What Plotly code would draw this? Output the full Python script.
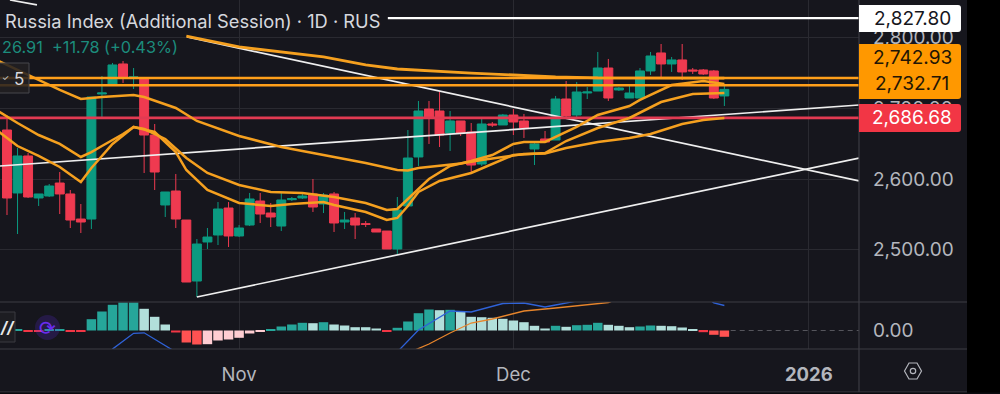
import plotly.graph_objects as go
from plotly.subplots import make_subplots

# ---------- data ----------
candle_idx = list(range(69))
opens = [2669.4,2580.2,2632.6,2573.1,2575.9,2594.3,2578.8,2543.3,2543.3,2720.4,2733.1,2762.9,2743.1,2743.1,2662.3,2563.2,2583,2541.9,2455.5,2510.8,2520.7,2558.9,2519.3,2534.8,2568.8,2551.8,2533.4,2570.7,2573.1,2578.8,2564.6,2578.8,2539.1,2544.8,2536.7,2529.2,2526.3,2500.9,2561.8,2631.2,2699.1,2696.3,2665.2,2682.2,2666.6,2621.2,2677.9,2676.5,2690.6,2682.2,2642.5,2656.7,2655.2,2713.3,2690.6,2721.8,2724.6,2757.2,2726.1,2714.7,2714.7,2753,2778.5,2762.9,2768.6,2754.4,2754.4,2753,2717.6]
highs = [2690,2643.9,2636.8,2578.8,2592.9,2609.9,2584.4,2564.6,2716.1,2745.9,2764.3,2767.1,2757.2,2743.1,2677.9,2581.6,2607.1,2541.9,2515,2530.6,2567.4,2567.4,2534.8,2580.2,2580.2,2566,2580.2,2574.5,2580.2,2600,2580.2,2581.6,2553.3,2551.8,2540.5,2529.2,2526.3,2574.5,2669.4,2710.5,2710.5,2723.2,2696.3,2682.2,2679.3,2685,2680.7,2692.1,2699.1,2692.1,2652.4,2668,2717.6,2738.8,2737.4,2730.3,2779.9,2770,2730.3,2731.7,2757.2,2779.9,2791.2,2772.8,2791.2,2757.2,2755.8,2754.4,2733.1]
lows = [2549,2522.1,2573.1,2561.8,2574.5,2550.4,2530.6,2523.5,2529.2,2687.8,2733.1,2736,2727.5,2608.5,2584.4,2546.2,2530.6,2454.1,2432.9,2500.9,2506.5,2503.7,2517.8,2533.4,2537.7,2532,2526.3,2568.8,2571.7,2553.3,2551.8,2524.9,2529.2,2515,2532,2524.9,2500.9,2493.8,2560.3,2618.4,2649.6,2645.3,2639.7,2660.9,2607.1,2618.4,2673.7,2676.5,2662.3,2658.1,2619.8,2651,2655.2,2685,2687.8,2713.3,2724.6,2710.5,2724.6,2714.7,2714.7,2747.3,2741.6,2751.6,2740.2,2748.7,2747.3,2713.3,2703.4]
closes = [2573.1,2632.6,2574.5,2578.8,2590.1,2578.8,2541.9,2539.1,2716.1,2721.8,2761.5,2743.1,2744.5,2662.3,2609.9,2581.6,2543.3,2454.1,2507.9,2517.8,2557.5,2519.3,2530.6,2571.7,2550.4,2546.2,2570.3,2572.1,2575.9,2560.3,2577.3,2537.7,2541.9,2534.8,2535.8,2524.9,2500.9,2556.1,2629.7,2696.3,2686.4,2662.3,2682.2,2665.2,2619.8,2677.9,2676.5,2690.6,2680.7,2672.2,2649.6,2652.4,2713.3,2689.2,2723.2,2723.2,2757.2,2714.7,2728.9,2721.8,2753,2774.2,2762.9,2768.6,2751.6,2753,2748.7,2714.7,2726.91]

ma_slow_idx = [-1,3,5,7,9,12,13,16,18,22,26,30,34,37,38,39,43,45,47,49,51,53,56,59,61,64,66,68]
ma_slow = [2768.6,2740.2,2726.1,2713.3,2716.1,2719,2716.1,2700.6,2682.2,2660.9,2645.3,2634,2622.7,2612.7,2612,2615.6,2622,2626.9,2631.2,2635.4,2636.1,2643.9,2652.4,2658.1,2663.7,2677.9,2683.6,2686.4]
ma_upper_idx = [-1,1,3,5,7,8,9,11,12,13,15,17,19,22,25,28,31,34,36,37,38,40,42,44,46,48,49,51,52,54,56,59,60,63,66,68]
ma_upper = [2697.7,2679.3,2662.3,2649.6,2631.2,2638.2,2646.7,2663.7,2673.7,2670.8,2656.7,2629.7,2608.5,2591.5,2581.6,2580.2,2574.5,2566,2556.1,2557.5,2571.7,2600,2618.4,2625.5,2634,2649.6,2652.4,2652.4,2659.5,2673.7,2690.6,2703.4,2711.9,2733.1,2738.8,2734.6]
ma_lower_idx = [-1,1,3,5,7,8,10,12,13,14,16,17,19,22,25,27,30,31,34,36,37,38,39,41,44,46,48,51,53,56,59,62,65,68]
ma_lower = [2669.4,2646.7,2632.6,2617,2595.8,2615.6,2649.6,2673.7,2670,2666.6,2638.2,2612.7,2584.4,2566,2561.8,2564.6,2567.4,2563.2,2553.3,2541.9,2544.8,2561.8,2581.6,2597.2,2608.5,2621.2,2634,2636.8,2653.8,2672.2,2686.4,2709,2720.4,2721.8]
ma_long_idx = [17,22,30,34,37,40,44,48,52,56,60,68]
ma_long = [2802.5,2787,2772.8,2761.5,2755.8,2753,2750,2747.3,2744.5,2743.1,2743,2742.9]

level_white = 2827.80
level_orange_a = 2742.93
level_orange_b = 2732.71
level_red = 2686.68
price_ticks = [2500, 2600, 2700, 2800]

trend_down_idx = [0.28, 2.84, None, 17.06, 80.76]
trend_down = [2853.5, 2846.5, None, 2801.1, 2597.2]
trend_up_idx = [18, 80.76]
trend_up = [2432.9, 2629.7]
trend_mid_idx = [-0.66, 80.76]
trend_mid = [2618.4, 2704.8]
white_level_idx = [36.1, 80.76]

hist_idx = list(range(1, 69))
hist = [.5,-.5,-.5,.3,.75,-.5,-.75,5.65,9.5,12.85,14,14,10.85,6.85,3,-1,-6,-7,-6.85,-5,-4.5,-3.65,-1.5,-.5,.5,2,3,3.85,3.65,4.15,3,2.5,1.65,1.65,1,-.5,1.35,4.5,8.65,10.5,10.15,10.35,9.5,6.85,6.65,6.35,5.85,5,4.15,2.35,1,2.35,1.85,2.65,2.85,3.85,2.85,2.35,1.65,2,2.5,2.35,2.15,1.5,.5,-.85,-2.15,-3.15]
hist_strong_pos = [1,4,5,8,9,10,11,12,25,26,27,28,30,37,38,39,40,42,52,54,55,56,60,61]
hist_strong_neg = [17,18,67,68]
hist_dark_neg = [2,3,6,7,16,36,66]
macd_idx = [9,10,12,13,16,17,None,36,37,39,41,42,44,46,47,49,51,52,54,56,None,66,67,68]
macd_line = [-15,-9.3,-1.4,-1.15,-10.75,-15,None,-15,-10.7,.25,6.75,9.75,9.25,12.25,13.5,13.75,11.75,12.75,14.75,20,None,18,13.75,12.5]
signal_idx = [38,40,42,44,46,49,52,55,57,60]
signal_line = [-11.25,-6.75,-1.25,3.75,5.75,9.75,11.25,12.75,14,20]
zero_idx = [68.6, 80.76]
macd_ticks = [0]

time_ticks = [22, 48, 76]
time_labels = ["Nov", "Dec", "<b>2026</b>"]

# ---------- styles ----------
W, H = 1000, 394
BG = "#16161d"
GRID = "#2a2a31"
SEP = "#3c3c44"
GREEN = "#0b9a80"
RED = "#ef3a50"
AMBER = "#f5a01f"
LABEL = "#b4b6bd"
FONT = "Inter, Roboto, sans-serif"
TAGSIZE = 19

kinds = []
for i, v in zip(hist_idx, hist):
    if i in hist_strong_pos:
        kinds.append("#26a69a")
    elif i in hist_strong_neg:
        kinds.append("#ff5252")
    elif i in hist_dark_neg:
        kinds.append("#f23645")
    elif v < 0:
        kinds.append("#ffcdd2")
    else:
        kinds.append("#b2dfdb")

fig = make_subplots(rows=2, cols=1, shared_xaxes=True, vertical_spacing=0)

fig.add_trace(go.Candlestick(
    x=candle_idx, open=opens, high=highs, low=lows, close=closes,
    increasing=dict(line=dict(color=GREEN, width=1), fillcolor=GREEN),
    decreasing=dict(line=dict(color=RED, width=1), fillcolor=RED),
    whiskerwidth=0, showlegend=False), row=1, col=1)

def line(x, y, color, width, row=1, dash=None):
    fig.add_trace(go.Scatter(x=x, y=y, mode="lines", showlegend=False, connectgaps=False,
                             line=dict(color=color, width=width, dash=dash)), row=row, col=1)

xl, xr = -0.663, 80.76
line(trend_mid_idx, trend_mid, "#eeeeee", 1.7)
line(trend_down_idx, trend_down, "#eeeeee", 1.7)
line(trend_up_idx, trend_up, "#eeeeee", 1.7)
line(white_level_idx, [level_white]*2, "#ffffff", 2.2)
line([xl, xr], [level_red]*2, "#e23a52", 2.8)
line(ma_slow_idx, ma_slow, AMBER, 2.5)
line(ma_upper_idx, ma_upper, AMBER, 2.5)
line(ma_lower_idx, ma_lower, AMBER, 2.5)
line(ma_long_idx, ma_long, AMBER, 2.8)
line([xl, xr], [level_orange_a]*2, "#ff9f1a", 2.5)
line([xl, xr], [level_orange_b]*2, "#ff9f1a", 2.5)

fig.add_trace(go.Bar(x=hist_idx, y=hist, marker=dict(color=kinds, line=dict(width=0)),
                     width=0.9, showlegend=False), row=2, col=1)
line(macd_idx, macd_line, "#2f62d8", 1.3, row=2)
line(signal_idx, signal_line, "#e8852b", 1.3, row=2)
line(zero_idx, [0, 0], "#55555c", 1, row=2, dash="5px,4px")

def py(p):
    return 1 - p / H
def px(p):
    return p / W

fig.update_xaxes(range=[xl, xr], tickvals=time_ticks, ticktext=["", "", ""], showgrid=True, gridcolor=GRID,
                 gridwidth=1, zeroline=False, showline=False, rangeslider_visible=False, ticks="",
                 domain=[0, 859 / W], row=1, col=1)
fig.update_xaxes(range=[xl, xr], tickvals=time_ticks, ticktext=time_labels, showgrid=True, gridcolor=GRID,
                 gridwidth=1, zeroline=False, showline=False, ticks="", ticklabelstandoff=12,
                 tickfont=dict(family=FONT, size=18.5, color=LABEL), domain=[0, 859 / W], row=2, col=1)
fig.update_yaxes(range=[2425.8, 2853.5], tickvals=price_ticks, tickformat=",.2f", side="right",
                 showgrid=True, gridcolor=GRID, zeroline=False, showline=False, ticks="",
                 ticklabelstandoff=13, tickfont=dict(family=FONT, size=TAGSIZE, color=LABEL),
                 domain=[py(302), 1], row=1, col=1)
fig.update_yaxes(range=[-9.25, 14.25], tickvals=macd_ticks, tickformat=".2f", side="right",
                 showgrid=False, zeroline=False, showline=False, ticks="",
                 ticklabelstandoff=13, tickfont=dict(family=FONT, size=TAGSIZE, color=LABEL),
                 domain=[py(349), py(302)], row=2, col=1)

shapes = []
def hline(y, x1=967):
    shapes.append(dict(type="line", xref="paper", yref="paper", x0=0, x1=px(x1), y0=py(y), y1=py(y),
                       line=dict(color=SEP, width=1.2), layer="above"))
hline(302); hline(349); hline(392)
shapes.append(dict(type="line", xref="paper", yref="paper", x0=px(859), x1=px(859), y0=py(0), y1=py(392),
                   line=dict(color=SEP, width=1.2), layer="above"))
shapes.append(dict(type="rect", xref="paper", yref="paper", x0=px(967), x1=1, y0=0, y1=1,
                   fillcolor="#000000", line=dict(width=0), layer="above"))
shapes.append(dict(type="rect", xref="paper", yref="paper", x0=0, x1=1, y0=0, y1=py(392.5),
                   fillcolor="#0a0a0e", line=dict(width=0), layer="above"))

def tag(y0, y1, color):
    x0, x1, r = 859, 961, 3
    path = (f"M {px(x0)} {py(y0)} L {px(x1-r)} {py(y0)} Q {px(x1)} {py(y0)} {px(x1)} {py(y0+r)} "
            f"L {px(x1)} {py(y1-r)} Q {px(x1)} {py(y1)} {px(x1-r)} {py(y1)} L {px(x0)} {py(y1)} Z")
    shapes.append(dict(type="path", xref="paper", yref="paper", path=path, fillcolor=color,
                       line=dict(width=0), layer="above"))
tag(5, 32, "#ffffff")
tag(44, 99, "#ff9800")
tag(104, 132, "#f23645")

shapes.append(dict(type="rect", xref="paper", yref="paper", x0=px(-4), x1=px(29), y0=py(93), y1=py(63),
                   fillcolor="rgba(34,32,34,0.86)", line=dict(color="#47474c", width=1), layer="above"))
shapes.append(dict(type="rect", xref="paper", yref="paper", x0=px(-4), x1=px(15), y0=py(342), y1=py(312),
                   fillcolor="#1d1d22", line=dict(color="#3a3a40", width=1), layer="above"))
shapes.append(dict(type="circle", xref="paper", yref="paper", x0=px(35), x1=px(60), y0=py(340), y1=py(315),
                   fillcolor="rgba(90,40,220,0.22)", line=dict(width=0), layer="above"))

cx, cy = 913, 371
hexpts = [(cx-8.5, cy), (cx-4, cy-8), (cx+4, cy-8), (cx+8.5, cy), (cx+4, cy+8), (cx-4, cy+8)]
hexpath = "M " + " L ".join(f"{px(a)} {py(b)}" for a, b in hexpts) + " Z"
shapes.append(dict(type="path", xref="paper", yref="paper", path=hexpath, line=dict(color=LABEL, width=1.2), layer="above"))
shapes.append(dict(type="circle", xref="paper", yref="paper", x0=px(cx-2.7), x1=px(cx+2.7), y0=py(cy+2.7), y1=py(cy-2.7),
                   line=dict(color=LABEL, width=1.2), layer="above"))

def text(x, y, s, color, size=16, anchor="left", family=FONT):
    return dict(xref="paper", yref="paper", x=px(x), y=py(y), text=s, showarrow=False, xanchor=anchor,
                yanchor="middle", font=dict(family=family, size=size, color=color))

annotations = [
    text(3, 21, "Russia Index (Additional Session) · 1D · RUS", "#d6d8de", 18.3),
    text(0, 47, "26.91", "#1c8c7c", 16.3),
    text(50, 47, "+11.78 (+0.43%)", "#1c8c7c", 16.3),
    text(19, 79, "5", "#d6d8de", 17, "center"),
    text(5, 78, "✓", "#d6d8de", 8, "center"),
    text(7, 327, "<b><i>//</i></b>", "#e8e8e8", 16, "center"),
    text(47.5, 328, "⟳", "#6a2cf0", 20, "center", "DejaVu Sans"),
    text(912, 18, f"{level_white:,.2f}", "#16161d", TAGSIZE, "center"),
    text(912, 57, f"{level_orange_a:,.2f}", "#221505", TAGSIZE, "center"),
    text(912, 84, f"{level_orange_b:,.2f}", "#221505", TAGSIZE, "center"),
    text(912, 117, f"{level_red:,.2f}", "#ffffff", TAGSIZE, "center"),
]

fig.update_layout(width=W, height=H, margin=dict(l=0, r=0, t=0, b=0), paper_bgcolor=BG, plot_bgcolor=BG,
                  boxgap=0.08, boxgroupgap=0.08, barmode="overlay", showlegend=False, shapes=shapes,
                  annotations=annotations, hovermode=False)

fig.write_html("out.html", config={"displayModeBar": False},
               post_script="document.body.style.margin='0';document.body.style.overflow='hidden';")
